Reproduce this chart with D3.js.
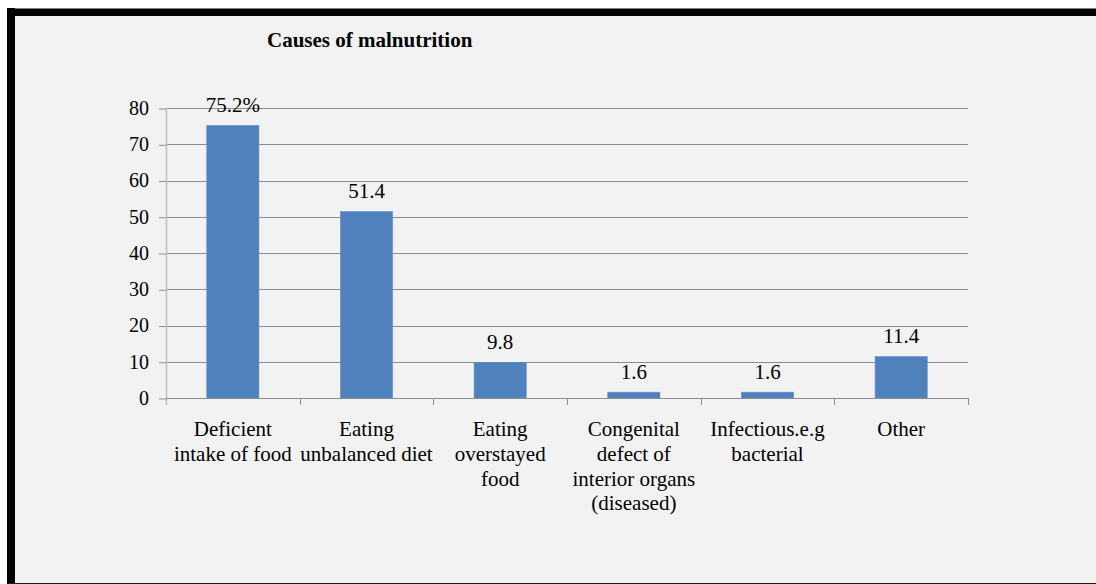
<!DOCTYPE html>
<html>
<head>
<meta charset="utf-8">
<script src="https://cdn.jsdelivr.net/npm/d3@7"></script>
<style>
  html, body { margin: 0; padding: 0; background: #ffffff; }
  svg { display: block; }
  text { font-family: "Liberation Serif", "Times New Roman", serif; fill: #000; }
</style>
</head>
<body>
<svg id="chart" width="1096" height="584"></svg>
<script>
// Causes of malnutrition (percentage of respondents)
const categories = [
  ["Deficient", "intake of food"],
  ["Eating", "unbalanced diet"],
  ["Eating", "overstayed", "food"],
  ["Congenital", "defect of", "interior organs", "(diseased)"],
  ["Infectious.e.g", "bacterial"],
  ["Other"]
];
const values = [75.2, 51.4, 9.8, 1.6, 1.6, 11.4];
const valueLabels = ["75.2%", "51.4", "9.8", "1.6", "1.6", "11.4"];
const yTicks = [0, 10, 20, 30, 40, 50, 60, 70, 80];
const title = "Causes of malnutrition";

const svg = d3.select("#chart");

// panel background and frame
svg.append("rect").attr("x", 7).attr("y", 8).attr("width", 1089).attr("height", 576).attr("fill", "#f2f2f2");
svg.append("rect").attr("x", 7).attr("y", 8).attr("width", 1089).attr("height", 8).attr("fill", "#000");
svg.append("line").attr("x1", 7).attr("x2", 1096).attr("y1", 8.5).attr("y2", 8.5).attr("stroke", "#7f7f7f");
svg.append("rect").attr("x", 7).attr("y", 8).attr("width", 8).attr("height", 576).attr("fill", "#000");
svg.append("line").attr("x1", 7).attr("x2", 1096).attr("y1", 583.5).attr("y2", 583.5).attr("stroke", "#1a1a1a");

const plot = { left: 166, right: 968, top: 108, bottom: 398 };

const x = d3.scaleBand()
  .domain(d3.range(categories.length))
  .range([plot.left, plot.right])
  .paddingInner(0.61)
  .paddingOuter(0.305);

const xBoundary = d3.scaleLinear()
  .domain([0, categories.length])
  .range([plot.left, plot.right]);

const y = d3.scaleLinear().domain([0, 80]).range([plot.bottom, plot.top]);

// title
svg.append("text")
  .attr("x", 267).attr("y", 47)
  .attr("font-size", 21).attr("font-weight", "bold")
  .text(title);

// horizontal gridlines
svg.append("g")
  .selectAll("line")
  .data(yTicks.filter(d => d > 0))
  .join("line")
  .attr("x1", plot.left).attr("x2", plot.right)
  .attr("y1", d => Math.round(y(d)) + 0.5).attr("y2", d => Math.round(y(d)) + 0.5)
  .attr("stroke", "#8c8c8c").attr("stroke-width", 1);

// y axis
const yAxis = svg.append("g")
  .attr("transform", `translate(${plot.left},0)`)
  .call(d3.axisLeft(y).tickValues(yTicks).tickSize(7).tickPadding(10).tickFormat(d3.format("d")));
yAxis.select(".domain").remove();
yAxis.selectAll(".tick line").attr("stroke", "#8c8c8c").attr("transform", "translate(0,0.5)");
yAxis.selectAll(".tick text")
  .attr("font-family", "Liberation Serif, Times New Roman, serif")
  .attr("font-size", 20).attr("fill", "#000");
svg.append("line")
  .attr("x1", plot.left + 0.5).attr("x2", plot.left + 0.5)
  .attr("y1", plot.top).attr("y2", plot.bottom + 7)
  .attr("stroke", "#bfbfbf").attr("stroke-width", 1.5);

// bars
svg.append("g")
  .selectAll("rect")
  .data(values)
  .join("rect")
  .attr("x", (d, i) => x(i))
  .attr("width", x.bandwidth())
  .attr("y", d => y(d))
  .attr("height", d => y(0) - y(d))
  .attr("fill", "#4f81bd")
  .attr("stroke", "#5b8ccb").attr("stroke-width", 0.6);

// x axis line and boundary ticks
svg.append("line")
  .attr("x1", plot.left).attr("x2", plot.right)
  .attr("y1", plot.bottom + 0.5).attr("y2", plot.bottom + 0.5)
  .attr("stroke", "#8c8c8c");
svg.append("g")
  .selectAll("line")
  .data(d3.range(1, categories.length + 1))
  .join("line")
  .attr("x1", d => Math.round(xBoundary(d)) + 0.5).attr("x2", d => Math.round(xBoundary(d)) + 0.5)
  .attr("y1", plot.bottom).attr("y2", plot.bottom + 7)
  .attr("stroke", "#8c8c8c");

// value labels
svg.append("g")
  .selectAll("text")
  .data(values)
  .join("text")
  .attr("x", (d, i) => x(i) + x.bandwidth() / 2)
  .attr("y", d => y(d) - 13.5)
  .attr("text-anchor", "middle")
  .attr("font-size", 21)
  .text((d, i) => valueLabels[i]);

// category labels
const catG = svg.append("g")
  .selectAll("text")
  .data(categories)
  .join("text")
  .attr("text-anchor", "middle")
  .attr("font-size", 21)
  .attr("transform", (d, i) => `translate(${x(i) + x.bandwidth() / 2},436)`);
catG.selectAll("tspan")
  .data(d => d)
  .join("tspan")
  .attr("x", 0)
  .attr("y", (d, j) => j * 24.8)
  .text(d => d);
</script>
</body>
</html>
